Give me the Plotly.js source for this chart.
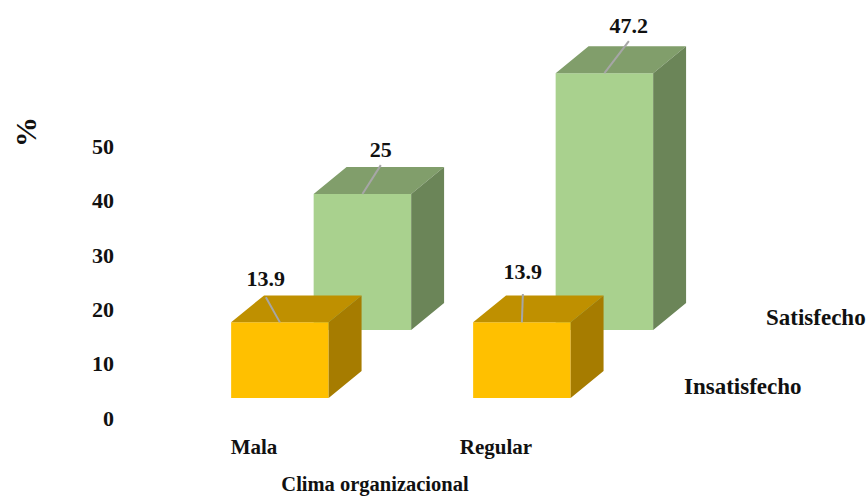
<!DOCTYPE html>
<html>
<head>
<meta charset="utf-8">
<script src="https://cdn.plot.ly/plotly-3.0.1.min.js"></script>
<style>html,body{margin:0;padding:0;background:#fff}</style>
</head>
<body>
<div id="chart" style="width:868px;height:496px"></div>
<script>
// Survey results by organisational climate (percent)
const categories = ['Mala', 'Regular'];
const insatisfecho = [13.9, 13.9];
const satisfecho = [25, 47.2];
const yTicks = [0, 10, 20, 30, 40, 50];

// Oblique projection used to fake the 3D columns
const BAR_W = 0.403, DEPTH_X = 0.136, DEPTH_Y = 4.96;
const SERIES = [
  { name: 'Satisfecho', values: satisfecho, xShift: 0.448, base: 16.18, z: 0,
    front: '#A9D18E', top: '#819E6B', side: '#6B8558',
    leader: [[0.076, 5.3], [0.101, 5.9]], labelLift: [0.4, 0.5] },
  { name: 'Insatisfecho', values: insatisfecho, xShift: 0.107, base: 3.68, z: 1,
    front: '#FFC000', top: '#BF9000', side: '#A67C00',
    leader: [[-0.058, 4.6], [0.004, 5.2]], labelLift: [1.0, 1.7] }
];

// Maps window pixels onto the paper coordinates of the plot area
const PLOT = { l: 60, r: 690, t: 5, b: 430 };
const paperX = px => (px - PLOT.l) / (PLOT.r - PLOT.l);
const paperY = py => (PLOT.b - py) / (PLOT.b - PLOT.t);

function polygon(name, xs, ys, color, z) {
  return { type: 'scatter', mode: 'lines', name, x: xs, y: ys, fill: 'toself', fillcolor: color,
    line: { width: 0, color }, hoverinfo: 'skip', showlegend: false, cliponaxis: false, zorder: z };
}

const traces = [];
for (const s of SERIES) {
  const tops = s.values.map(v => s.base + v);
  const lefts = categories.map((_, i) => i + s.xShift - BAR_W / 2);
  const rights = lefts.map(l => l + BAR_W);
  const topX = [], topY = [], sideX = [], sideY = [];
  categories.forEach((_, i) => {
    topX.push(lefts[i], rights[i], rights[i] + DEPTH_X, lefts[i] + DEPTH_X, lefts[i], null);
    topY.push(tops[i], tops[i], tops[i] + DEPTH_Y, tops[i] + DEPTH_Y, tops[i], null);
    sideX.push(rights[i], rights[i] + DEPTH_X, rights[i] + DEPTH_X, rights[i], rights[i], null);
    sideY.push(s.base, s.base + DEPTH_Y, tops[i] + DEPTH_Y, tops[i], s.base, null);
  });
  traces.push(polygon(s.name + ' top', topX, topY, s.top, s.z));
  traces.push(polygon(s.name + ' side', sideX, sideY, s.side, s.z));
  traces.push({ type: 'bar', name: s.name, x: categories.map((_, i) => i + s.xShift),
    y: s.values, base: categories.map(() => s.base), width: BAR_W,
    marker: { color: s.front, line: { width: 0 } }, cliponaxis: false, showlegend: false, zorder: s.z });
  // Leader lines running from each column's front edge up to its value label
  categories.forEach((_, i) => {
    const cx = i + s.xShift, cy = tops[i];
    const ex = cx + s.leader[i][0], ey = cy + s.leader[i][1];
    traces.push({ type: 'scatter', mode: 'lines', x: [cx, ex], y: [cy, ey],
      line: { color: '#A6A6A6', width: 2 }, hoverinfo: 'skip', showlegend: false,
      cliponaxis: false, zorder: 2 });
    traces.push({ type: 'scatter', mode: 'text', x: [ex], y: [ey + s.labelLift[i]], text: [String(s.values[i])],
      textposition: 'top center', textfont: { family: 'Liberation Serif', size: 22, color: '#111', weight: 'bold' },
      hoverinfo: 'skip', showlegend: false, cliponaxis: false, zorder: 2 });
  });
}

function sideLabel(text, px, py, size, angle) {
  return { text, xref: 'paper', yref: 'paper', x: paperX(px), y: paperY(py), xanchor: 'center', yanchor: 'middle',
    showarrow: false, textangle: angle || 0, font: { size, weight: 'bold' } };
}

const layout = {
  width: 868, height: 496, showlegend: false, barmode: 'overlay',
  paper_bgcolor: '#fff', plot_bgcolor: '#fff',
  margin: { l: PLOT.l, r: 868 - PLOT.r, t: PLOT.t, b: 496 - PLOT.b },
  font: { family: 'Liberation Serif', color: '#111', size: 21, weight: 'bold' },
  xaxis: { range: [-0.8017, 1.8017], tickvals: categories.map((_, i) => i), ticktext: categories,
    showgrid: false, zeroline: false, showline: false, ticks: '', automargin: false, ticklabelstandoff: 2,
    tickfont: { size: 21, weight: 'bold' },
    title: { text: 'Clima organizacional', font: { size: 20.5, weight: 'bold' }, standoff: 20 } },
  // The value axis sits well inside the plot area, left of the columns
  yaxis: { range: [-2.206, 75.92], tickvals: yTicks, ticktext: yTicks.map(String), anchor: 'free', position: paperX(114),
    showgrid: false, zeroline: false, showline: false, ticks: '', tickfont: { size: 22, weight: 'bold' } },
  annotations: [
    sideLabel('%', 25, 132, 30, -90),
    sideLabel('Satisfecho', 816, 317, 23),
    sideLabel('Insatisfecho', 743, 386, 23)
  ]
};

Plotly.newPlot('chart', traces, layout, { displayModeBar: false, staticPlot: true });
</script>
</body>
</html>
